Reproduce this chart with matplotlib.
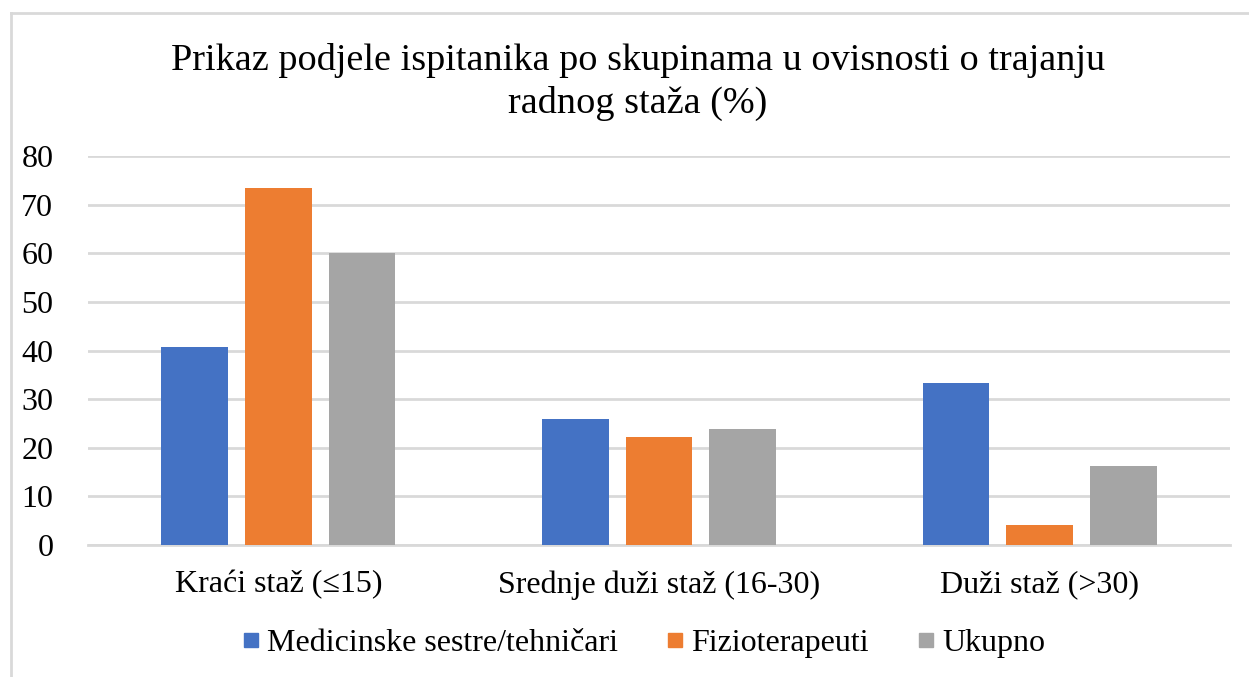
import matplotlib.pyplot as plt
import numpy as np
from matplotlib.lines import Line2D

categories = ["Kraći staž (≤15)", "Srednje duži staž (16-30)", "Duži staž (>30)"]
series_names = ["Medicinske sestre/tehničari", "Fizioterapeuti", "Ukupno"]
med_sestre = [40.7, 25.9, 33.3]
fizioterapeuti = [73.5, 22.2, 4.1]
ukupno = [60.0, 23.8, 16.2]
yticks = [0, 10, 20, 30, 40, 50, 60, 70, 80]
title = "Prikaz podjele ispitanika po skupinama u ovisnosti o trajanju\nradnog staža (%)"

colors = ["#4472C4", "#ED7D31", "#A5A5A5"]

plt.rcParams['font.family'] = ['Liberation Serif', 'DejaVu Serif']

W, H = 1249, 677
fig = plt.figure(figsize=(W / 100, H / 100), dpi=100)
ax = fig.add_axes([88 / W, 1 - 545 / H, (1230 - 88) / W, (545 - 156) / H])

x = np.arange(len(categories))
width = 0.175
step = 0.22
for i, (vals, name) in enumerate(zip([med_sestre, fizioterapeuti, ukupno], series_names)):
    ax.bar(x + (i - 1) * step, vals, width, color=colors[i], label=name, zorder=3)

ax.set_xlim(-0.5, 2.5)
ax.set_ylim(0, 80)
ax.set_yticks(yticks)
ax.set_yticklabels([str(t) for t in yticks], fontsize=23)
ax.set_xticks(x)
ax.set_xticklabels(categories, fontsize=23)
ax.tick_params(axis='both', length=0, colors='#000000')
ax.tick_params(axis='y', pad=25)
ax.tick_params(axis='x', pad=18)
ax.grid(axis='y', color='#D9D9D9', linewidth=2, zorder=0)
for s in ['top', 'right', 'left']:
    ax.spines[s].set_visible(False)
ax.spines['bottom'].set_color('#D9D9D9')
ax.spines['bottom'].set_linewidth(2)

fig.text(638 / W, 1 - 82 / H, title, ha='center', va='center', fontsize=27.5,
         linespacing=1.27)

handles = [Line2D([0], [0], marker='s', linestyle='none', markersize=10,
                  markerfacecolor=c, markeredgecolor=c) for c in colors]
fig.legend(handles, series_names, loc='center', bbox_to_anchor=(640 / W, 1 - 643 / H),
           ncol=3, frameon=False, fontsize=23, handletextpad=0.0, columnspacing=1.3,
           handlelength=1.0)

# figure border (left and top visible)
fig.add_artist(Line2D([10.5 / W, 10.5 / W], [0, 1 - 13 / H], transform=fig.transFigure,
                      color='#D9D9D9', linewidth=2))
fig.add_artist(Line2D([10.5 / W, 1], [1 - 13 / H, 1 - 13 / H], transform=fig.transFigure,
                      color='#D9D9D9', linewidth=2))

fig.savefig("out.png", dpi=100)
